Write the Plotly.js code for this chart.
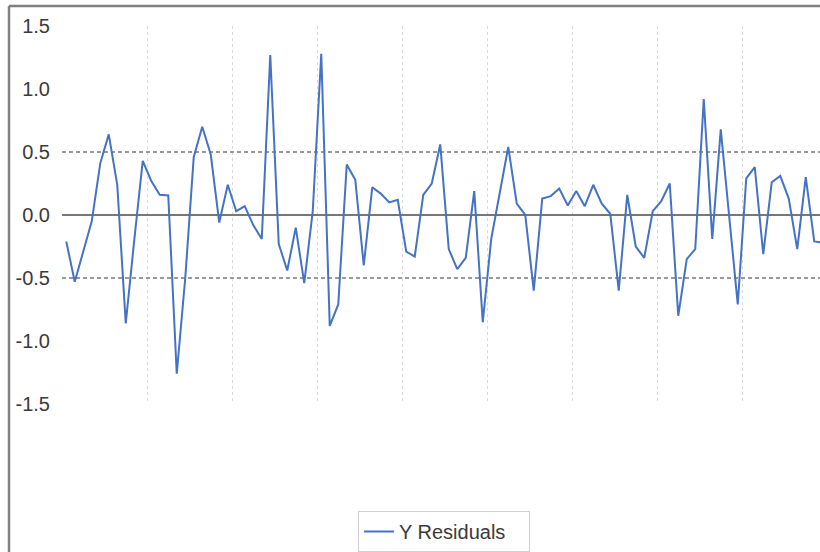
<!DOCTYPE html>
<html>
<head>
<meta charset="utf-8">
<script src="https://cdn.plot.ly/plotly-3.0.1.min.js"></script>
<style>
  html, body { margin: 0; padding: 0; background: #ffffff; }
  #chart { width: 820px; height: 552px; }
</style>
</head>
<body>
<div id="chart"></div>
<script>
// Observation numbers (category axis)
const observations = [];
for (let k = 1; k <= 90; k++) observations.push(k);

// Y residuals
const yResiduals = [
  -0.21, -0.53, -0.29, -0.05, 0.41, 0.64, 0.24, -0.86, -0.20, 0.43,
  0.27, 0.16, 0.155, -1.26, -0.50, 0.46, 0.70, 0.48, -0.06, 0.24,
  0.03, 0.07, -0.08, -0.19, 1.27, -0.23, -0.44, -0.10, -0.54, 0.03,
  1.28, -0.88, -0.71, 0.40, 0.28, -0.40, 0.22, 0.17, 0.10, 0.12,
  -0.29, -0.33, 0.16, 0.25, 0.56, -0.27, -0.43, -0.34, 0.19, -0.85,
  -0.19, 0.17, 0.54, 0.09, 0.00, -0.60, 0.13, 0.15, 0.21, 0.075,
  0.19, 0.07, 0.24, 0.09, 0.01, -0.60, 0.16, -0.25, -0.34, 0.03,
  0.11, 0.25, -0.80, -0.35, -0.27, 0.92, -0.19, 0.68, -0.02, -0.71,
  0.29, 0.38, -0.31, 0.26, 0.31, 0.13, -0.27, 0.30, -0.21, -0.22
];

const seriesName = "Y Residuals";
const yTickVals = [-1.5, -1.0, -0.5, 0.0, 0.5, 1.0, 1.5];
const yTickText = ["-1.5", "-1.0", "-0.5", "0.0", "0.5", "1.0", "1.5"];
const refLevels = [-0.5, 0.5];

const textColor = "#3a3a3a";
const fontFamily = "Liberation Sans, Arial, sans-serif";

const plotTop = 26, plotBottom = 552 - 146, plotH = plotBottom - plotTop;
const plotLeft = 62, plotW = 820 - plotLeft;

const traces = [
  {
    x: observations,
    y: yResiduals,
    type: "scatter",
    mode: "lines",
    name: seriesName,
    line: { color: "#4472C4", width: 2 },
    xaxis: "x",
    yaxis: "y",
    hoverinfo: "skip"
  },
  // invisible helper trace so the reference-level axis draws its gridlines
  {
    x: [observations[0]],
    y: [0],
    type: "scatter",
    mode: "lines",
    yaxis: "y2",
    showlegend: false,
    hoverinfo: "skip",
    line: { color: "rgba(0,0,0,0)" }
  }
];

const layout = {
  width: 820,
  height: 552,
  margin: { l: plotLeft, r: 0, t: plotTop, b: 146, pad: 0 },
  paper_bgcolor: "#ffffff",
  plot_bgcolor: "#ffffff",
  showlegend: true,
  font: { family: fontFamily, size: 20, color: textColor },
  xaxis: {
    range: [0.5, 0.5 + plotW / 8.5],
    tick0: 0.5,
    dtick: 10,
    showticklabels: false,
    ticks: "",
    showgrid: true,
    gridcolor: "#d9d9d9",
    gridwidth: 1,
    griddash: "dot",
    zeroline: false,
    showline: false
  },
  yaxis: {
    range: [-1.5, 1.5],
    tickmode: "array",
    tickvals: yTickVals,
    ticktext: yTickText,
    ticks: "",
    ticklabelstandoff: 11,
    tickfont: { family: fontFamily, size: 20, color: textColor },
    showgrid: false,
    zeroline: true,
    zerolinecolor: "#777777",
    zerolinewidth: 2,
    showline: false
  },
  yaxis2: {
    range: [-1.5, 1.5],
    overlaying: "y",
    tickmode: "array",
    tickvals: refLevels,
    showticklabels: false,
    ticks: "",
    showgrid: true,
    gridcolor: "#999999",
    gridwidth: 1.5,
    griddash: "4px,3px",
    zeroline: false,
    showline: false
  },
  legend: {
    x: (358 - plotLeft) / plotW,
    xanchor: "left",
    y: (plotBottom - 514) / plotH,
    yanchor: "top",
    orientation: "h",
    entrywidth: 125,
    bgcolor: "#ffffff",
    bordercolor: "#d0d0d0",
    borderwidth: 1,
    font: { family: fontFamily, size: 20, color: textColor }
  },
  shapes: [
    { type: "line", xref: "paper", yref: "paper",
      x0: (9 - plotLeft) / plotW, x1: 1.02,
      y0: (plotBottom - 6) / plotH, y1: (plotBottom - 6) / plotH,
      line: { color: "#808080", width: 2.5 } },
    { type: "line", xref: "paper", yref: "paper",
      x0: (9 - plotLeft) / plotW, x1: (9 - plotLeft) / plotW,
      y0: (plotBottom - 6) / plotH, y1: (plotBottom - 560) / plotH,
      line: { color: "#808080", width: 2.5 } }
  ]
};

Plotly.newPlot("chart", traces, layout, { staticPlot: true, displayModeBar: false });
</script>
</body>
</html>
